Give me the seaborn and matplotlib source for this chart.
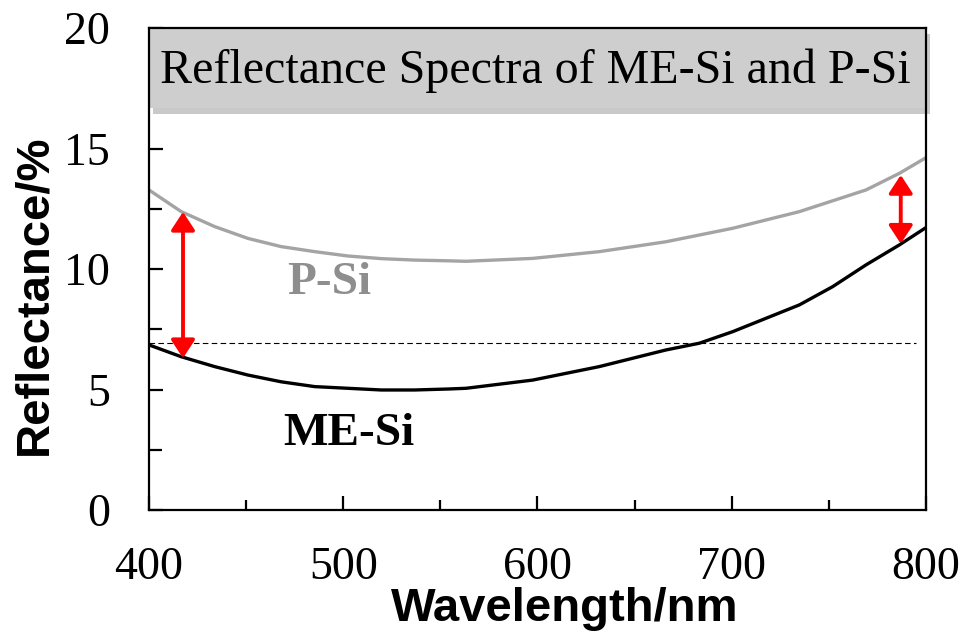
import numpy as np
import pandas as pd
import matplotlib
matplotlib.use("Agg")
import matplotlib.pyplot as plt
import seaborn as sns
from matplotlib.patches import Rectangle, FancyArrowPatch
from matplotlib import patheffects as pe
from matplotlib.ticker import MultipleLocator

# ---- data ----
wl_psi = [400, 416.6, 433.8, 450.9, 468, 485.3, 502.4, 519.6, 536.7, 553.9, 563.2,
          597.5, 631.8, 666.1, 700.5, 734.8, 769.1, 786.3, 800]
r_psi = [13.28, 12.38, 11.76, 11.27, 10.93, 10.72, 10.54, 10.43, 10.37, 10.34, 10.32,
         10.44, 10.72, 11.13, 11.69, 12.38, 13.28, 13.97, 14.62]

wl_mesi = [400, 416.6, 433.8, 450.9, 468, 485.3, 502.4, 519.6, 536.7, 553.9, 563.2,
           597.5, 631.8, 666.1, 683.3, 700.5, 734.8, 752, 769.1, 786.3, 800]
r_mesi = [6.85, 6.36, 5.95, 5.6, 5.32, 5.12, 5.05, 4.98, 4.98, 5.02, 5.05,
          5.39, 5.95, 6.64, 6.92, 7.4, 8.51, 9.27, 10.17, 11.0, 11.72]

ref_level = 6.93          # dashed reference line
ref_span = [400, 795]
arrow_x = [417.5, 787]
arrow_top = [12.37, 13.9]
arrow_bottom = [6.3, 11.05]

title_text = "Reflectance Spectra of ME-Si and P-Si"
xlabel = "Wavelength/nm"
ylabel = "Reflectance/%"
xticks = [400, 500, 600, 700, 800]
yticks = [0, 5, 10, 15, 20]

df = pd.concat([
    pd.DataFrame({"wl": wl_psi, "R": r_psi, "sample": "P-Si"}),
    pd.DataFrame({"wl": wl_mesi, "R": r_mesi, "sample": "ME-Si"}),
], ignore_index=True)

sns.set_style("ticks")
plt.rcParams["font.family"] = ["Liberation Serif", "DejaVu Serif"]
plt.rcParams["axes.linewidth"] = 1.6
plt.rcParams["text.color"] = "black"
plt.rcParams["axes.labelcolor"] = "black"

fig = plt.figure(figsize=(9.62, 6.38), dpi=100)
ax = fig.add_axes([149 / 962, 128 / 638, 777 / 962, 482 / 638])

sns.lineplot(data=df, x="wl", y="R", hue="sample",
             palette={"P-Si": "#a4a4a4", "ME-Si": "black"},
             linewidth=2.4, legend=False, ax=ax, estimator=None, sort=True)

ax.plot(ref_span, [ref_level, ref_level], color="black", lw=0.8,
        dashes=(5, 3))

for x, yt, yb in zip(arrow_x, arrow_top, arrow_bottom):
    arr = FancyArrowPatch((x, yb), (x, yt),
                          arrowstyle="<|-|>,head_length=1.1,head_width=0.72",
                          mutation_scale=10, color="#ff0000", lw=2.8,
                          shrinkA=0, shrinkB=0, zorder=5)
    ax.add_patch(arr)

ax.set_xlim(400, 800)
ax.set_ylim(0, 20)
ax.set_xticks(xticks)
ax.set_yticks(yticks)
ax.xaxis.set_minor_locator(MultipleLocator(50))
ax.yaxis.set_minor_locator(MultipleLocator(2.5))
ax.tick_params(axis="both", which="both", direction="in", top=False, right=False,
               width=1.6, labelsize=33, colors="black")
ax.tick_params(axis="x", which="major", length=10, pad=26)
ax.tick_params(axis="x", which="minor", length=7)
ax.tick_params(axis="y", which="major", length=10, pad=28)
ax.tick_params(axis="y", which="minor", length=9)
for s in ax.spines.values():
    s.set_visible(True)
    s.set_color("black")
    s.set_linewidth(1.6)
    s.set_zorder(6)

ax.set_xlabel(xlabel, fontfamily="Liberation Sans", fontweight="bold", fontsize=34,
              va="center", color="black")
ax.set_ylabel(ylabel, fontfamily="Liberation Sans", fontweight="bold", fontsize=34,
              va="center", color="black")
ax.xaxis.set_label_coords(0.535, -0.205)
ax.yaxis.set_label_coords(-0.148, 0.446)

# grey title box with shadow
box = Rectangle((0, 0.834), 1, 0.166, transform=ax.transAxes,
                facecolor="#cecece", edgecolor="none", clip_on=False, zorder=3)
box.set_path_effects([pe.SimplePatchShadow(offset=(3, -4), shadow_rgbFace="#888888",
                                           alpha=0.45), pe.Normal()])
ax.add_patch(box)
ax.text(0.497, 0.886, title_text, transform=ax.transAxes, ha="center",
        va="baseline", fontsize=34.6, color="black", zorder=4)

ax.text(493, 9.4, "P-Si", ha="center", va="center", fontsize=34,
        fontweight="bold", color="#8e8e8e")
ax.text(503, 3.15, "ME-Si", ha="center", va="center", fontsize=34,
        fontweight="bold", color="black")

fig.savefig("out.png", dpi=100)
